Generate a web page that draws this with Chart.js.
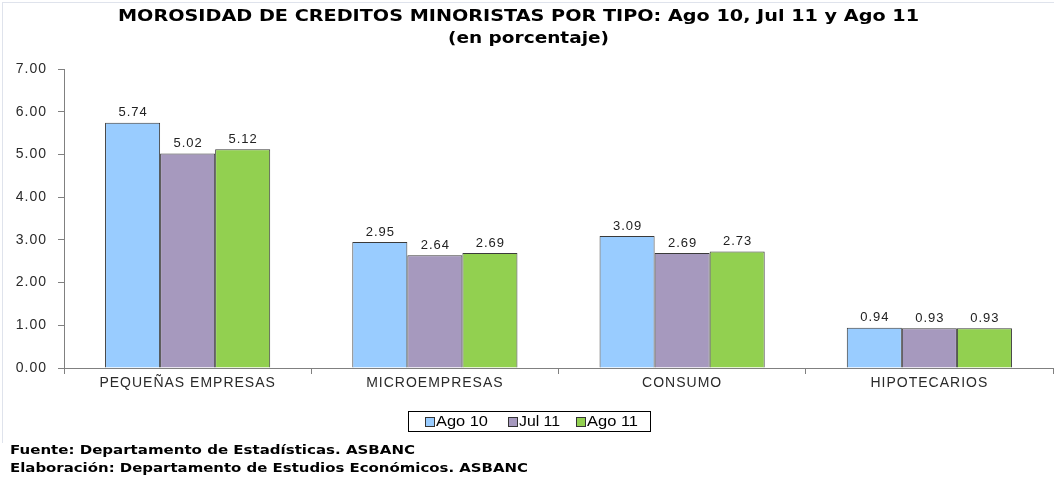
<!DOCTYPE html>
<html><head><meta charset="utf-8">
<script src="https://cdn.jsdelivr.net/npm/chart.js@4/dist/chart.umd.min.js"></script>
<style>
html,body{margin:0;padding:0;background:#fff;}
#wrap{position:relative;width:1054px;height:478px;overflow:hidden;background:#fff;}
#frame{position:absolute;left:2px;top:2px;width:1060px;height:440px;border-left:1px solid #dfe3ec;border-top:1px solid #dfe3ec;}
canvas{position:absolute;left:0;top:0;}
.t{position:absolute;white-space:nowrap;transform-origin:0 0;color:#000;}
.ttl{font-family:"DejaVu Sans",sans-serif;font-weight:bold;font-size:15px;line-height:20px;}
.foot{font-family:"DejaVu Sans",sans-serif;font-weight:bold;font-size:12px;line-height:16px;}
#legbox{position:absolute;left:408px;top:411px;width:241px;height:19px;border:1px solid #000;}
.sw{position:absolute;width:8px;height:8px;border:1px solid #333;top:417px;}
.lg{font-family:"Liberation Sans",Arial,sans-serif;font-size:14px;line-height:16px;color:#000;}
</style></head><body>
<div id="wrap">
<div id="frame"></div>
<canvas id="c" width="1054" height="478"></canvas>
<div class="t ttl" id="t1" style="left:118px;top:6px;">MOROSIDAD DE CREDITOS MINORISTAS POR TIPO: Ago 10, Jul 11 y Ago 11</div>
<div class="t ttl" id="t2" style="left:448px;top:28px;">(en porcentaje)</div>
<div id="legbox"></div>
<div id="legend"></div>
<div class="t foot" id="f1" style="left:10px;top:442px;">Fuente: Departamento de Estadísticas. ASBANC</div>
<div class="t foot" id="f2" style="left:10px;top:460px;">Elaboración: Departamento de Estudios Económicos. ASBANC</div>
</div>
<script>
// ---- data ----
const categories = ['PEQUEÑAS EMPRESAS', 'MICROEMPRESAS', 'CONSUMO', 'HIPOTECARIOS'];
const seriesNames = ['Ago 10', 'Jul 11', 'Ago 11'];
const ago10 = [5.74, 2.95, 3.09, 0.94];
const jul11 = [5.02, 2.64, 2.69, 0.93];
const ago11 = [5.12, 2.69, 2.73, 0.93];
const yTicks = [0, 1, 2, 3, 4, 5, 6, 7];

// ---- styles ----
const colors = ['#99CCFF', '#A699BE', '#92D050'];
const seriesValues = [ago10, jul11, ago11];

function fit(id, w) {
  const el = document.getElementById(id);
  const nw = el.getBoundingClientRect().width;
  el.style.transform = 'scaleX(' + (w / nw) + ')';
}
fit('t1', 801); fit('t2', 161); fit('f1', 405); fit('f2', 518);

// legend
const legPos = [{sw: 425, tx: 436, w: 52}, {sw: 508, tx: 519, w: 41}, {sw: 576, tx: 587, w: 51}];
const leg = document.getElementById('legend');
seriesNames.forEach((n, i) => {
  const s = document.createElement('div');
  s.className = 'sw'; s.style.left = legPos[i].sw + 'px'; s.style.background = colors[i];
  leg.appendChild(s);
  const t = document.createElement('div');
  t.className = 't lg'; t.id = 'lg' + i; t.style.left = legPos[i].tx + 'px'; t.style.top = '413px';
  t.textContent = n; leg.appendChild(t);
  fit('lg' + i, legPos[i].w);
});

const spacing = {
  id: 'spacing',
  beforeLayout(chart) { chart.ctx.letterSpacing = '1px'; },
  beforeDraw(chart) { chart.ctx.letterSpacing = '1px'; }
};

const valueLabels = {
  id: 'valueLabels',
  afterDatasetsDraw(chart) {
    const ctx = chart.ctx;
    ctx.save();
    ctx.letterSpacing = '1px';
    ctx.font = '13px "Liberation Sans", Arial, sans-serif';
    ctx.fillStyle = '#222';
    ctx.textAlign = 'center';
    ctx.textBaseline = 'middle';
    chart.data.datasets.forEach((ds, di) => {
      chart.getDatasetMeta(di).data.forEach((el, i) => {
        ctx.fillText(ds.data[i].toFixed(2), el.x + 0.5, el.y - 10);
      });
    });
    ctx.restore();
  }
};

new Chart(document.getElementById('c'), {
  type: 'bar',
  data: {
    labels: categories,
    datasets: seriesNames.map((n, i) => ({
      label: n,
      data: seriesValues[i],
      backgroundColor: colors[i],
      borderColor: '#3a3a3a',
      borderWidth: 1,
      barPercentage: 1,
      categoryPercentage: 0.668
    }))
  },
  options: {
    responsive: false,
    animation: false,
    devicePixelRatio: 1,
    layout: { padding: { top: 69, left: 0, right: 1, bottom: 80 } },
    plugins: { legend: { display: false }, title: { display: false }, tooltip: { enabled: false } },
    scales: {
      x: {
        grid: { offset: true, drawOnChartArea: false, tickLength: 6, color: '#808080' },
        border: { color: '#808080', width: 1 },
        ticks: { font: { family: '"Liberation Sans", Arial, sans-serif', size: 14 }, color: '#2a2a2a', padding: 1, maxRotation: 0, autoSkip: false },
        afterFit(s) { s.height = 30; }
      },
      y: {
        min: 0, max: 7,
        grid: { drawOnChartArea: false, tickLength: 6, color: '#808080' },
        border: { color: '#808080', width: 1 },
        ticks: { font: { family: '"Liberation Sans", Arial, sans-serif', size: 14 }, color: '#2a2a2a', padding: 11, callback: v => Number(v).toFixed(2) },
        afterBuildTicks(s) { s.ticks = yTicks.map(v => ({ value: v })); },
        afterFit(s) { s.width = 64; }
      }
    }
  },
  plugins: [spacing, valueLabels]
});
</script>
</body></html>
